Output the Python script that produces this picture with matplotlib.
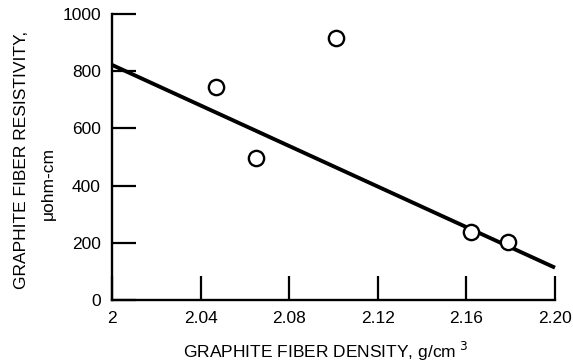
import matplotlib
matplotlib.use("Agg")
import matplotlib.pyplot as plt

plt.rcParams['font.family'] = ['Liberation Sans', 'DejaVu Sans']

density = [2.047, 2.065, 2.101, 2.162, 2.179]
resistivity = [746, 495, 917, 237, 204]
fit_x = [2.0, 2.20]
fit_y = [822, 113]
xticks = [2.0, 2.04, 2.08, 2.12, 2.16, 2.20]
xtick_labels = ["2", "2.04", "2.08", "2.12", "2.16", "2.20"]
yticks = [0, 200, 400, 600, 800, 1000]
ytick_labels = ["0", "200", "400", "600", "800", "1000"]

fig = plt.figure(figsize=(5.73, 3.62), dpi=100)
ax = fig.add_axes([112/573, 1-300/362, (555-112)/573, (300-14)/362])

ax.plot(fit_x, fit_y, color='black', lw=2.8, solid_capstyle='butt', zorder=2, clip_on=False)
ax.plot(density, resistivity, 'o', ms=11, mfc='white', mec='black', mew=1.7, zorder=3, clip_on=False)

ax.set_xlim(2.0, 2.20)
ax.set_ylim(0, 1000)
ax.set_xticks(xticks)
ax.set_xticklabels(xtick_labels)
ax.set_yticks(yticks)
ax.set_yticklabels(ytick_labels)

for s in ['top', 'right']:
    ax.spines[s].set_visible(False)
for s in ['left', 'bottom']:
    ax.spines[s].set_linewidth(1.7)

ax.tick_params(axis='both', direction='in', length=17, width=1.6, labelsize=12.5, pad=8)
ax.tick_params(axis='x', pad=8)

fig.text(326/573, 1-351/362, r"GRAPHITE FIBER DENSITY, g/cm$^{\ 3}$", ha='center', va='center', fontsize=12.5)
fig.text(22/573, 1-160/362, "GRAPHITE FIBER RESISTIVITY,", ha='center', va='center', rotation=90, fontsize=12.5)
fig.text(48/573, 1-183/362, "\u03bcohm-cm", ha='center', va='center', rotation=90, fontsize=12.5)

fig.savefig("out.png", dpi=100)
